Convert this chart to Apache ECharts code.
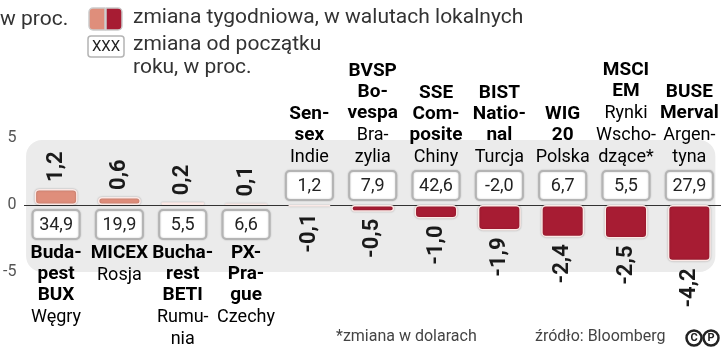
<!DOCTYPE html>
<html>
<head>
<meta charset="utf-8">
<script src="https://cdn.jsdelivr.net/npm/echarts@6/dist/echarts.min.js"></script>
<style>
  html, body { margin: 0; padding: 0; background: #fff; }
  #chart { width: 721px; height: 354px; }
</style>
</head>
<body>
<div id="chart"></div>
<script>
// dane
const indexNames = ['Buda-\npest\nBUX', 'MICEX', 'Bucha-\nrest\nBETI', 'PX-\nPra-\ngue', 'Sen-\nsex',
  'BVSP\nBo-\nvespa', 'SSE\nCom-\nposite', 'BIST\nNatio-\nnal', 'WIG\n20', 'MSCI\nEM', 'BUSE\nMerval'];
const countries = ['Węgry', 'Rosja', 'Rumu-\nnia', 'Czechy', 'Indie', 'Bra-\nzylia', 'Chiny',
  'Turcja', 'Polska', 'Rynki\nWscho-\ndzące*', 'Argen-\ntyna'];
const weeklyChange = [1.2, 0.6, 0.2, 0.1, -0.1, -0.5, -1.0, -1.9, -2.4, -2.5, -4.2];
const ytdChange = [34.9, 19.9, 5.5, 6.6, 1.2, 7.9, 42.6, -2.0, 6.7, 5.5, 27.9];
const yMin = -5, yMax = 5, yStep = 5;

const posColor = '#df8e7b';
const negColor = '#a71c33';
const boldFont = 'Roboto, "Noto Sans", sans-serif';
const regFont = 'Roboto, "Noto Sans", sans-serif';

function fmt(v) {
  return v.toFixed(1).replace('.', ',');
}

function nameText(i) {
  const b = indexNames[i].split('\n').map(s => '{b|' + s + '}');
  const r = countries[i].split('\n').map(s => '{r|' + s + '}');
  return b.concat(r).join('\n');
}

const barData = weeklyChange.map(v => ({
  value: v,
  itemStyle: { color: v >= 0 ? posColor : negColor },
  label: v >= 0 ? { position: 'top', align: 'left' } : { position: 'bottom', align: 'right' }
}));

const boxData = ytdChange.map((v, i) => [i, v, weeklyChange[i]]);

const chart = echarts.init(document.getElementById('chart'));

chart.setOption({
  animation: false,
  grid: { left: 24, right: 0, top: 138, bottom: 82 },
  xAxis: {
    type: 'category',
    data: indexNames,
    axisLine: { lineStyle: { color: '#333', width: 1 } },
    axisTick: { show: false },
    axisLabel: { show: false }
  },
  yAxis: {
    type: 'value',
    min: yMin, max: yMax, interval: yStep,
    axisLine: { show: false },
    axisTick: { show: false },
    splitLine: { show: false },
    axisLabel: { margin: 8, color: '#555', fontSize: 16, fontFamily: regFont }
  },
  series: [
    {
      type: 'bar',
      data: barData,
      barWidth: 43,
      z: 3,
      itemStyle: {
        borderRadius: 4,
        borderColor: '#fbe9e6',
        borderWidth: 1.5,
        shadowBlur: 2,
        shadowColor: 'rgba(0,0,0,0.25)'
      },
      label: {
        show: true,
        rotate: 90,
        distance: 7,
        verticalAlign: 'middle',
        formatter: p => fmt(p.value),
        color: '#1a1a1a',
        fontSize: 22,
        fontWeight: 'bold',
        fontFamily: boldFont
      }
    },
    {
      type: 'custom',
      data: boxData,
      z: 4,
      renderItem: function (params, api) {
        const i = api.value(0);
        const ytd = api.value(1);
        const wk = api.value(2);
        const p = api.coord([i, 0]);
        const cx = p[0];
        const h = 29, w = 47;
        const top = wk >= 0 ? p[1] + 5 : p[1] - 5 - h;
        return {
          type: 'group',
          children: [
            {
              type: 'rect',
              shape: { x: cx - w / 2, y: top, width: w, height: h, r: 4 },
              style: { fill: '#fff', stroke: '#b4b4b4', lineWidth: 2, shadowBlur: 2, shadowColor: 'rgba(0,0,0,0.2)' }
            },
            {
              type: 'text',
              x: cx, y: top + h / 2 + 1,
              style: { text: fmt(ytd), align: 'center', verticalAlign: 'middle', font: '18px ' + regFont, fill: '#222' }
            },
            {
              type: 'text',
              x: cx,
              y: wk >= 0 ? top + h + 4 : top - 3,
              style: {
                text: nameText(i),
                align: 'center',
                verticalAlign: wk >= 0 ? 'top' : 'bottom',
                rich: {
                  b: { fontFamily: boldFont, fontWeight: 'bold', fontSize: 19, lineHeight: 21, color: '#1a1a1a', align: 'center' },
                  r: { fontFamily: regFont, fontSize: 18, lineHeight: 22, color: '#333', align: 'center' }
                }
              }
            }
          ]
        };
      }
    }
  ]
});

// tło panelu, legenda i podpisy
const yTop = chart.convertToPixel({ yAxisIndex: 0 }, 4.85);
const yBot = chart.convertToPixel({ yAxisIndex: 0 }, yMax * -1);
const xFirst = chart.convertToPixel({ xAxisIndex: 0 }, 0);
const xLast = chart.convertToPixel({ xAxisIndex: 0 }, indexNames.length - 1);

chart.setOption({
  graphic: [
    {
      type: 'rect', z: -10, silent: true,
      shape: { x: xFirst - 30, y: yTop, width: xLast + 26 - (xFirst - 30), height: yBot - yTop, r: 16 },
      style: { fill: '#ebebeb' }
    },
    { type: 'text', left: 0, top: 9, style: { text: 'w proc.', font: '21px ' + regFont, fill: '#333' } },
    {
      type: 'rect', shape: { x: 89, y: 8, width: 16, height: 22, r: [4, 0, 0, 4] },
      style: { fill: posColor, stroke: '#ccc', lineWidth: 1.5 }
    },
    {
      type: 'rect', shape: { x: 106, y: 8, width: 16, height: 22, r: [0, 4, 4, 0] },
      style: { fill: negColor, stroke: '#ccc', lineWidth: 1.5 }
    },
    { type: 'text', left: 133, top: 7, style: { text: 'zmiana tygodniowa, w walutach lokalnych', font: '21px ' + regFont, fill: '#333' } },
    {
      type: 'rect', shape: { x: 88, y: 36, width: 36, height: 21, r: 3 },
      style: { fill: '#fff', stroke: '#b4b4b4', lineWidth: 1.5 }
    },
    { type: 'text', x: 106, y: 47, style: { text: 'XXX', align: 'center', verticalAlign: 'middle', font: '15px ' + regFont, fill: '#222' } },
    { type: 'text', left: 133, top: 34, style: { text: 'zmiana od początku', font: '21px ' + regFont, fill: '#333' } },
    { type: 'text', left: 133, top: 57, style: { text: 'roku, w proc.', font: '21px ' + regFont, fill: '#333' } },
    { type: 'text', left: 336, top: 329, style: { text: '*zmiana w dolarach', font: '16px ' + regFont, fill: '#444' } },
    { type: 'text', left: 535, top: 329, style: { text: 'źródło: Bloomberg', font: '16px ' + regFont, fill: '#444' } },
    { type: 'circle', shape: { cx: 694, cy: 338, r: 7.5 }, style: { fill: 'none', stroke: '#222', lineWidth: 2.5 } },
    { type: 'circle', shape: { cx: 711, cy: 338, r: 7.5 }, style: { fill: 'none', stroke: '#222', lineWidth: 2.5 } },
    { type: 'text', x: 694, y: 338.5, style: { text: 'C', align: 'center', verticalAlign: 'middle', font: 'bold 11px ' + boldFont, fill: '#222' } },
    { type: 'text', x: 711, y: 338.5, style: { text: 'P', align: 'center', verticalAlign: 'middle', font: 'bold 11px ' + boldFont, fill: '#222' } }
  ]
});
</script>
</body>
</html>
